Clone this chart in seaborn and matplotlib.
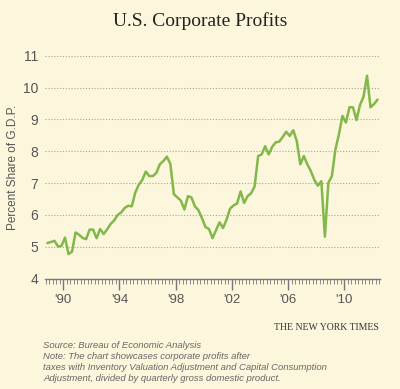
import numpy as np
import pandas as pd
import matplotlib
matplotlib.use("Agg")
import matplotlib.pyplot as plt
import seaborn as sns

# quarterly corporate profits as % of GDP, Q4 1988 - Q2 2012
quarters = np.arange(95) * 0.25 + 1988.875
profits = [
    5.12, 5.15, 5.19, 5.01, 5.03, 5.29, 4.77, 4.85, 5.45, 5.38,
    5.28, 5.24, 5.54, 5.54, 5.27, 5.56, 5.40, 5.55, 5.72, 5.83,
    6.00, 6.08, 6.22, 6.29, 6.27, 6.70, 6.95, 7.10, 7.36, 7.22,
    7.22, 7.32, 7.59, 7.69, 7.83, 7.60, 6.65, 6.55, 6.45, 6.17,
    6.59, 6.55, 6.27, 6.15, 5.90, 5.62, 5.56, 5.27, 5.52, 5.77,
    5.59, 5.85, 6.20, 6.30, 6.36, 6.74, 6.38, 6.59, 6.68, 6.90,
    7.85, 7.90, 8.16, 7.90, 8.14, 8.28, 8.30, 8.45, 8.61, 8.48,
    8.66, 8.32, 7.59, 7.85, 7.59, 7.38, 7.10, 6.92, 7.06, 5.32,
    7.01, 7.22, 8.06, 8.53, 9.11, 8.90, 9.38, 9.38, 8.98, 9.45,
    9.71, 10.37, 9.38, 9.48, 9.62,
]
year_ticks = [1990, 1994, 1998, 2002, 2006, 2010]
year_labels = ["'90", "'94", "'98", "'02", "'06", "'10"]
y_ticks = [4, 5, 6, 7, 8, 9, 10, 11]

df = pd.DataFrame({"quarter": quarters, "profit": profits})

bg = "#fcf7dc"
grey = "#555555"

sns.set_style("white")
plt.rcParams["font.family"] = ["Liberation Sans", "DejaVu Sans"]

fig = plt.figure(figsize=(4, 3.89), dpi=100, facecolor=bg)
ax = fig.add_axes([0.1125, 0.2836, 0.8375, 0.5733], facecolor=bg)

for y in y_ticks[1:]:
    ax.axhline(y, color="#a8a290", lw=0.8, ls=(0, (1, 1.6)), zorder=1)

sns.lineplot(data=df, x="quarter", y="profit", color="#82b84a", lw=1.8, ax=ax, zorder=3)

ax.set_xlim(1988.7, 2012.55)
ax.set_ylim(4, 11)
for s in ["top", "right", "left"]:
    ax.spines[s].set_visible(False)
ax.spines["bottom"].set_color("#777777")
ax.spines["bottom"].set_linewidth(1.0)

ax.set_xticks(year_ticks)
ax.set_xticklabels(year_labels)
ax.set_xticks(np.arange(1988.75, 2012.6, 0.25), minor=True)
ax.tick_params(axis="x", which="major", direction="out", length=8, width=1.0,
               color="#777777", labelsize=9.5, labelcolor=grey, pad=3, bottom=True)
ax.tick_params(axis="x", which="minor", direction="out", length=3.5, width=0.7,
               color="#888888", bottom=True)
ax.set_yticks(y_ticks)
ax.tick_params(axis="y", length=0, labelsize=10, labelcolor=grey, pad=5)

ax.set_xlabel("")
ax.set_ylabel("Percent Share of G.D.P.", fontsize=8.5, color=grey, labelpad=3)

fig.text(0.5, 0.945, "U.S. Corporate Profits", ha="center", va="center",
         family="Liberation Serif", fontsize=14, color="#222222")
fig.text(0.948, 0.157, "THE NEW YORK TIMES", ha="right", va="center",
         family="Liberation Serif", fontsize=7, color="#333333")

notes = [
    "Source: Bureau of Economic Analysis",
    "Note: The chart showcases corporate profits after",
    "taxes with Inventory Valuation Adjustment and Capital Consumption",
    "Adjustment, divided by quarterly gross domestic product.",
]
for i, line in enumerate(notes):
    fig.text(0.108, 0.113 - i * 0.0285, line, ha="left", va="center",
             style="italic", fontsize=6.8, color="#666666")

fig.savefig("out.png", dpi=100, facecolor=bg)
